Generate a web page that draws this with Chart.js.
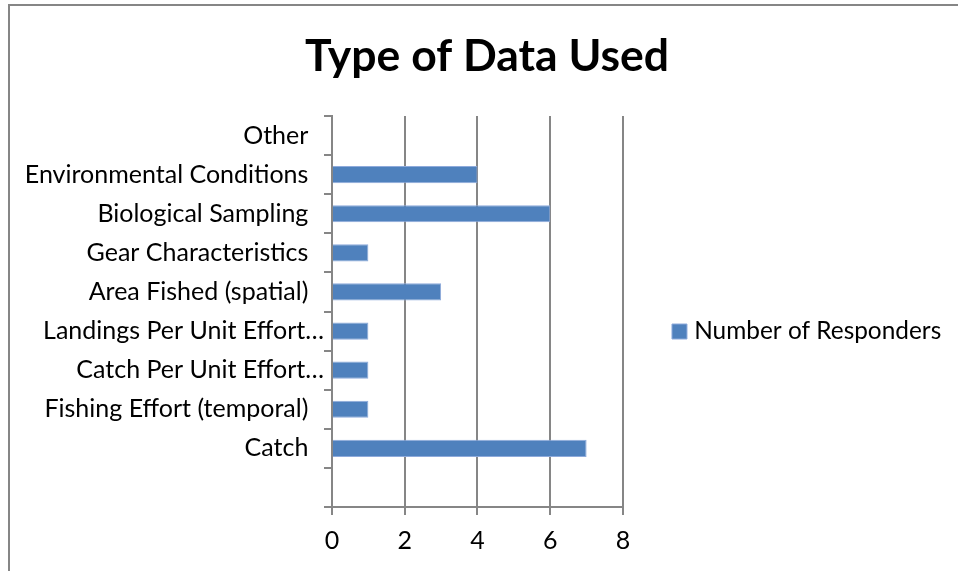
<!DOCTYPE html>
<html>
<head>
<meta charset="utf-8">
<script src="https://cdn.jsdelivr.net/npm/chart.js@4/dist/chart.umd.min.js"></script>
<style>
  html, body { margin: 0; padding: 0; background: #ffffff; }
  #wrap { width: 958px; height: 571px; position: relative; }
</style>
</head>
<body>
<div id="wrap"><canvas id="chart"></canvas></div>
<script>
// Survey answers, listed from the bottom row of the chart to the top row
const categories = [
  "",
  "Catch",
  "Fishing Effort (temporal)",
  "Catch Per Unit Effort…",
  "Landings Per Unit Effort…",
  "Area Fished (spatial)",
  "Gear Characteristics",
  "Biological Sampling",
  "Environmental Conditions",
  "Other"
];
const responders = [null, 7, 1, 1, 1, 3, 1, 6, 4, 0];
const seriesName = "Number of Responders";
const chartTitle = "Type of Data Used";
const xTicks = [0, 2, 4, 6, 8];

const FONT = "Lato";
const AXIS_GREY = "#868686";
const BAR_BLUE = "#4F81BD";
const BAR_RIM = "#8EAADB";

// Thin frame around the chart (top and left edges)
const framePlugin = {
  id: "frame",
  beforeDraw(chart) {
    const ctx = chart.ctx;
    ctx.save();
    ctx.fillStyle = "#ffffff";
    ctx.fillRect(0, 0, chart.width, chart.height);
    ctx.strokeStyle = AXIS_GREY;
    ctx.lineWidth = 2;
    ctx.beginPath();
    ctx.moveTo(9, chart.height + 5);
    ctx.lineTo(9, 5);
    ctx.lineTo(chart.width + 5, 5);
    ctx.stroke();
    ctx.restore();
  }
};

new Chart(document.getElementById("chart"), {
  type: "bar",
  data: {
    labels: categories,
    datasets: [{
      label: seriesName,
      data: responders,
      backgroundColor: BAR_BLUE,
      borderColor: BAR_RIM,
      borderWidth: 1,
      categoryPercentage: 1,
      barPercentage: 0.44
    }]
  },
  options: {
    indexAxis: "y",
    responsive: true,
    maintainAspectRatio: false,
    animation: false,
    layout: { padding: { left: 22.8, right: 6.8, top: 0, bottom: 0 } },
    scales: {
      x: {
        min: 0,
        max: 8,
        afterBuildTicks(scale) { scale.ticks = xTicks.map(v => ({ value: v })); },
        afterFit(scale) { scale.height = 64; },
        grid: { color: AXIS_GREY, lineWidth: 2, tickLength: 8, tickColor: AXIS_GREY },
        border: { display: true, color: AXIS_GREY, width: 2 },
        ticks: { font: { family: FONT, size: 25 }, color: "#000000", padding: 11 }
      },
      y: {
        reverse: true,
        z: 1,
        afterFit(scale) { scale.width = 309.2; },
        grid: { drawOnChartArea: false, offset: true, tickLength: 8, lineWidth: 2, tickColor: AXIS_GREY },
        border: { display: true, color: AXIS_GREY, width: 2 },
        ticks: {
          font: { family: FONT, size: 25 },
          color: "#000000",
          padding: 0,
          autoSkip: false,
          callback(value) {
            const label = this.getLabelForValue(value);
            // shortened labels run into the space kept for the ellipsis
            return label.endsWith("…") ? label : label + "\u2002\u2009";
          }
        }
      }
    },
    plugins: {
      title: {
        display: true,
        text: chartTitle,
        color: "#000000",
        font: { family: FONT, size: 44.5, weight: "bold" },
        padding: { top: 29.5, bottom: 33.1 }
      },
      legend: {
        position: "right",
        maxWidth: 400,
        title: { display: true, text: "", padding: { top: 77.6, bottom: 0 } },
        labels: {
          usePointStyle: true,
          pointStyle: "rect",
          boxWidth: 5,
          boxHeight: 15,
          padding: 54,
          color: "#000000",
          font: { family: FONT, size: 24.4 }
        }
      },
      tooltip: { enabled: false }
    }
  },
  plugins: [framePlugin]
});
</script>
</body>
</html>
